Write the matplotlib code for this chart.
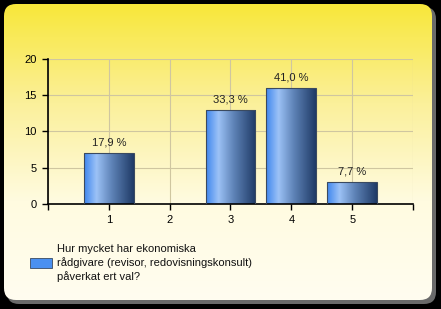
import numpy as np
import matplotlib
matplotlib.use("Agg")
import matplotlib.pyplot as plt
from matplotlib.patches import FancyBboxPatch
from matplotlib.colors import LinearSegmentedColormap

categories = [1, 2, 3, 4, 5]
counts = [7, 0, 13, 16, 3]
percent_labels = ["17,9 %", "", "33,3 %", "41,0 %", "7,7 %"]
legend_text = "Hur mycket har ekonomiska\nrådgivare (revisor, redovisningskonsult)\npåverkat ert val?"

plt.rcParams['font.family'] = ['Liberation Sans', 'DejaVu Sans']

fig = plt.figure(figsize=(4.41, 3.09), dpi=100, facecolor='black')

# background panel with yellow gradient
bg = fig.add_axes([0, 0, 1, 1])
bg.set_xlim(0, 441)
bg.set_ylim(309, 0)
bg.axis('off')
shadow = FancyBboxPatch((7, 7), 429, 297, boxstyle="round,pad=0,rounding_size=12",
                        facecolor='#6a6a6a', edgecolor='none')
bg.add_patch(shadow)
panel = FancyBboxPatch((4, 4), 428, 296, boxstyle="round,pad=0,rounding_size=12",
                       facecolor='none', edgecolor='none')
bg.add_patch(panel)
ycmap = LinearSegmentedColormap.from_list('y', ['#f8e73a', '#fbf09a', '#fffbe0', '#fffdf0'])
grad = np.linspace(0, 1, 256).reshape(-1, 1)
im = bg.imshow(grad, cmap=ycmap, extent=[4, 432, 300, 4], aspect='auto', zorder=1)
im.set_clip_path(panel)

ax = fig.add_axes([0.1088, 0.3398, 0.8277, 0.4693])
ax.patch.set_alpha(0)
bars = ax.bar(categories, counts, width=0.82, color='none', edgecolor='#3a4a60', linewidth=0.8, zorder=3)

bcmap = LinearSegmentedColormap.from_list('b', [(0, '#3f86ee'), (0.25, '#9cc2f6'),
                                                (0.55, '#5f84b8'), (1, '#1f3a66')])
hgrad = np.linspace(0, 1, 256).reshape(1, -1)
for b in bars:
    if b.get_height() <= 0:
        continue
    x0, w, h = b.get_x(), b.get_width(), b.get_height()
    g = ax.imshow(hgrad, cmap=bcmap, extent=[x0, x0 + w, 0, h], aspect='auto', zorder=2)
    g.set_clip_path(b)

for b, lab in zip(bars, percent_labels):
    if lab:
        ax.annotate(lab, (b.get_x() + b.get_width() / 2, b.get_height()),
                    xytext=(0, 4), textcoords='offset points', ha='center', va='bottom',
                    fontsize=8, color='#222222')

ax.set_xlim(0, 6)
ax.set_ylim(0, 20)
ax.set_xticks(range(0, 7))
ax.set_xticklabels([''] + [str(c) for c in categories] + [''])
ax.set_yticks([0, 5, 10, 15, 20])
ax.tick_params(labelsize=8, colors='black', length=4, width=1, direction='out', pad=4)
ax.grid(True, color='#cfc6a0', linewidth=0.8, zorder=0)
ax.set_axisbelow(True)
for s in ['top', 'right']:
    ax.spines[s].set_visible(False)
for s in ['left', 'bottom']:
    ax.spines[s].set_linewidth(1.2)
    ax.spines[s].set_color('black')

# legend
bg.add_patch(plt.Rectangle((30, 258), 22, 10, facecolor='#4a90f0', edgecolor='#3a4a60',
                           linewidth=0.6, zorder=3))
bg.text(57, 263, legend_text, fontsize=8, va='center', ha='left', color='#111111',
        linespacing=1.4, zorder=3)

fig.savefig('out.png', dpi=100, facecolor='black')
